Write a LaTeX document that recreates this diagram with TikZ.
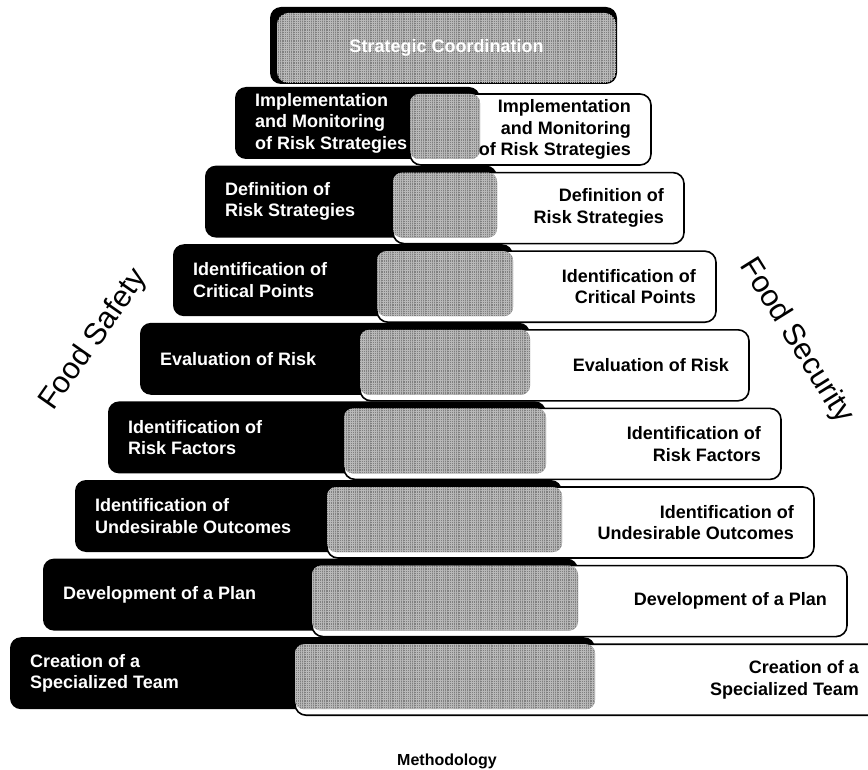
\documentclass[tikz,border=0pt]{standalone}
\usepackage{fontspec}
\setmainfont{Liberation Sans}
\usetikzlibrary{patterns.meta}

\definecolor{hatchgray}{gray}{0.5}
\definecolor{hatchline}{gray}{0.72}

\tikzset{
  darkbox/.style={fill=black, rounded corners=11pt, inner sep=0pt, outer sep=0pt},
  lightbox/.style={fill=white, draw=black, line width=1.6pt, rounded corners=11pt, inner sep=0pt, outer sep=0pt},
  hatchfill/.style={fill=hatchgray,
    postaction={pattern={Hatch[angle=0,distance=2.2pt,line width=0.35pt]}, pattern color=hatchline}},
  stepfont/.style={font=\bfseries\fontsize{18}{21.5}\selectfont},
  darklabel/.style={stepfont, text=white, align=left, inner sep=0pt},
  lightlabel/.style={stepfont, text=black, align=right, inner sep=0pt},
  sidelabel/.style={font=\fontsize{30.5}{36}\selectfont, inner sep=0pt},
}

\begin{document}
\begin{tikzpicture}[x=1pt,y=-1pt]
  \useasboundingbox (0,0) rectangle (868,770);
  \clip (0,0) rectangle (868,770);

  % top of the pyramid
  \node[darkbox, minimum width=347pt, minimum height=77pt] (topshadow) at (443.5,45.5) {};
  \node[hatchfill, draw=black, line width=1pt, rounded corners=11pt,
        minimum width=339pt, minimum height=70pt, inner sep=0pt] (topbox) at (446.5,48) {};
  \node[stepfont, text=white] (toplabel) at (topbox.center) {Strategic Coordination};

  % the eight steps: dark half (left) and light half (right)
  \foreach \i/\bl/\br/\wl/\wr/\lbl in {
      1/235/480/410/651/{Implementation\\and Monitoring\\of Risk Strategies},
      2/205/497/393/684/{Definition of\\Risk Strategies},
      3/173/513/377/716/{Identification of\\Critical Points},
      4/140/530/360/749/{Evaluation of Risk},
      5/108/546/344/781/{Identification of\\Risk Factors},
      6/75/562/327/814/{Identification of\\Undesirable Outcomes},
      7/43/578/312/847/{Development of a Plan},
      8/10/595/295/879/{Creation of a\\Specialized Team}} {
    \pgfmathsetmacro\bt{87+78.6*(\i-1)}
    \node[darkbox, minimum width={(\br-\bl)*1pt}, minimum height=72pt]
      (B\i) at ({(\bl+\br)/2},{\bt+36}) {};
    \node[darklabel, anchor=west] (T\i) at ([xshift=20pt]B\i.west) {\lbl};
    \node[lightbox, minimum width={(\wr-\wl)*1pt}, minimum height=71pt]
      (W\i) at ({(\wl+\wr)/2},{\bt+7+35.5}) {};
    \fill[hatchfill, rounded corners=9pt] (W\i.north west) rectangle (B\i.south east);
    \node[lightlabel, anchor=east] (S\i) at ([xshift=-20pt]W\i.east) {\lbl};
  }

  % side and bottom captions
  \node[sidelabel, rotate=55] (safety) at (94,340) {Food Safety};
  \node[sidelabel, rotate=-58] (security) at (796,341) {Food Security};
  \node[font=\bfseries\fontsize{16}{19}\selectfont] (method) at (447,761) {Methodology};
\end{tikzpicture}
\end{document}
